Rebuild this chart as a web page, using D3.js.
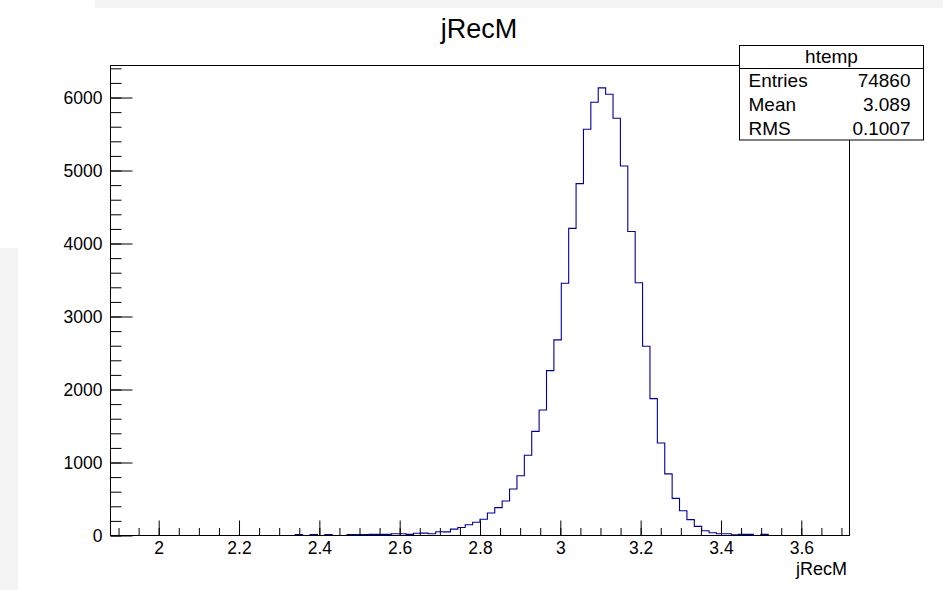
<!DOCTYPE html>
<html>
<head>
<meta charset="utf-8">
<script src="https://cdn.jsdelivr.net/npm/d3@7"></script>
<style>
  html, body { margin: 0; padding: 0; background: #ffffff; }
  svg { display: block; font-family: "Liberation Sans", Arial, Helvetica, sans-serif; }
</style>
</head>
<body>
<div id="chart"></div>
<script>
// histogram "htemp" of jRecM, 100 bins
var xRange = [1.88, 3.72];
var counts = [
  0, 0, 0, 0, 0, 0, 0, 0, 0, 0,
  0, 0, 0, 0, 0, 0, 0, 0, 0, 0,
  0, 0, 0, 0, 0, 12, 0, 12, 0, 12,
  0, 0, 12, 12, 12, 15, 15, 15, 25, 25,
  15, 30, 32, 25, 52, 50, 87, 110, 147, 181,
  222, 308, 382, 472, 636, 819, 1100, 1427, 1720, 2259,
  2680, 3455, 4207, 4820, 5565, 5936, 6132, 6045, 5716, 5062,
  4164, 3462, 2593, 1875, 1267, 844, 508, 339, 218, 125,
  65, 37, 23, 23, 10, 15, 15, 0, 15, 0,
  0, 0, 0, 0, 0, 0, 0, 0, 0, 0
];
var xTicks = [2, 2.2, 2.4, 2.6, 2.8, 3, 3.2, 3.4, 3.6];
var yTicks = [0, 1000, 2000, 3000, 4000, 5000, 6000];
var statsLabels = ['Entries', 'Mean', 'RMS'];
var statsValues = ['74860', '3.089', '0.1007'];
var titleText = 'jRecM';
var histName = 'htemp';

var width = 943, height = 590;
var frame = { left: 110.5, right: 849.5, top: 65.5, bottom: 535.5 };

function build() {
  var svg = d3.select('#chart').append('svg')
    .attr('width', width)
    .attr('height', height)
    .attr('viewBox', [0, 0, width, height]);

  // screenshot backdrop strips
  svg.append('rect').attr('x', 95).attr('y', 0).attr('width', width - 95).attr('height', 8).attr('fill', '#f4f4f4');
  svg.append('rect').attr('x', 0).attr('y', 248).attr('width', 18).attr('height', height - 248).attr('fill', '#f3f3f3');

  var nBins = counts.length;
  var binW = (xRange[1] - xRange[0]) / nBins;
  var yMax = d3.max(counts) * 1.05;

  var x = d3.scaleLinear().domain(xRange).range([frame.left, frame.right]);
  var y = d3.scaleLinear().domain([0, yMax]).range([frame.bottom, frame.top]);

  // **********   Histogram   ********** //
  var pts = counts.map(function (d, i) { return [xRange[0] + i * binW, d]; });
  pts.push([xRange[1], counts[nBins - 1]]);

  var line = d3.line()
    .x(function (d) { return x(d[0]); })
    .y(function (d) { return y(d[1]); })
    .curve(d3.curveStepAfter);

  svg.append('path')
    .datum(pts)
    .attr('fill', 'none')
    .attr('stroke', '#000099')
    .attr('stroke-width', 1.1)
    .attr('d', line);

  // **********   Axes   ********** //
  var xMinor = d3.range(38, 75).map(function (k) { return k * 0.05; })
    .filter(function (v) { return v >= xRange[0] && v <= xRange[1]; });
  var yMinor = d3.range(0, Math.floor(yMax / 200) + 1).map(function (k) { return k * 200; });

  var fs = 17.5;

  var gx = svg.append('g').attr('transform', 'translate(0,' + frame.bottom + ')');
  gx.append('g')
    .call(d3.axisBottom(x).tickValues(xMinor).tickSize(-7.5).tickFormat(''))
    .call(function (g) { g.select('.domain').remove(); });
  gx.append('g')
    .call(d3.axisBottom(x).tickValues(xTicks).tickSize(-15).tickPadding(6).tickFormat(d3.format('')))
    .call(function (g) { g.select('.domain').remove(); })
    .selectAll('text').attr('font-size', fs).attr('fill', '#000').attr('font-family', null);

  var gy = svg.append('g').attr('transform', 'translate(' + frame.left + ',0)');
  gy.append('g')
    .call(d3.axisLeft(y).tickValues(yMinor).tickSize(-11).tickFormat(''))
    .call(function (g) { g.select('.domain').remove(); });
  gy.append('g')
    .call(d3.axisLeft(y).tickValues(yTicks).tickSize(-22).tickPadding(8).tickFormat(d3.format('')))
    .call(function (g) { g.select('.domain').remove(); })
    .selectAll('text').attr('font-size', fs).attr('fill', '#000').attr('font-family', null);

  svg.selectAll('.tick line').attr('stroke', '#000').attr('stroke-width', 1);

  // frame
  svg.append('rect')
    .attr('x', frame.left).attr('y', frame.top)
    .attr('width', frame.right - frame.left).attr('height', frame.bottom - frame.top)
    .attr('fill', 'none').attr('stroke', '#000').attr('stroke-width', 1);

  // titles
  svg.append('text')
    .attr('x', 479).attr('y', 38)
    .attr('text-anchor', 'middle')
    .attr('font-size', 27)
    .text(titleText);

  svg.append('text')
    .attr('x', 847).attr('y', 575)
    .attr('text-anchor', 'end')
    .attr('font-size', 18)
    .text(titleText);

  // **********   Stats box   ********** //
  var box = { x: 739.5, y: 45.5, w: 184, h: 94.5, head: 23 };
  var sb = svg.append('g');
  sb.append('rect')
    .attr('x', box.x).attr('y', box.y).attr('width', box.w).attr('height', box.h)
    .attr('fill', '#fff').attr('stroke', '#000').attr('stroke-width', 1);
  sb.append('line')
    .attr('x1', box.x).attr('x2', box.x + box.w)
    .attr('y1', box.y + box.head).attr('y2', box.y + box.head)
    .attr('stroke', '#000');
  sb.append('text')
    .attr('x', box.x + box.w / 2).attr('y', box.y + 17.5)
    .attr('text-anchor', 'middle').attr('font-size', 19)
    .text(histName);

  var rowH = (box.h - box.head) / statsLabels.length;
  statsLabels.forEach(function (lab, i) {
    var by = box.y + box.head + rowH * i + rowH / 2 + 6.5;
    sb.append('text').attr('x', box.x + 9).attr('y', by).attr('font-size', 19).text(lab);
    sb.append('text').attr('x', box.x + box.w - 13).attr('y', by)
      .attr('text-anchor', 'end').attr('font-size', 19).text(statsValues[i]);
  });
}

build();
</script>
</body>
</html>
